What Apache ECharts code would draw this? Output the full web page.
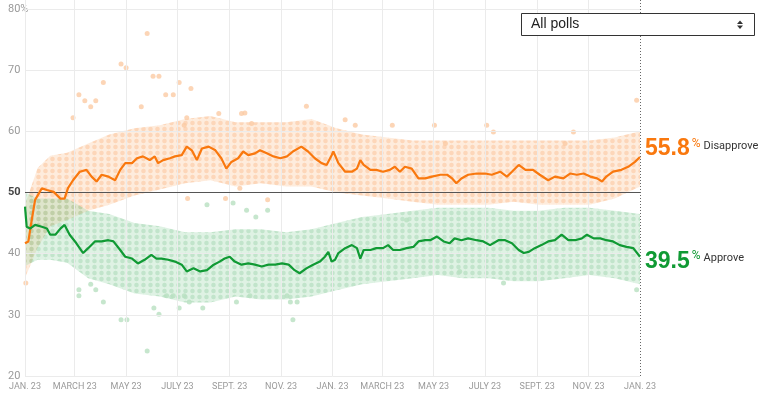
<!DOCTYPE html>
<html><head><meta charset="utf-8">
<script src="https://cdn.jsdelivr.net/npm/echarts@6/dist/echarts.min.js"></script>
<style>html,body{margin:0;padding:0;background:#fff}#c{width:768px;height:395px}</style>
</head><body><div id="c"></div>
<script>
// ---- axis ticks ----
const xTickDays = [0,59,120,181,243,304,365,424,485,546,608,669,730];
const xTickLabels = ['JAN. 23','MARCH 23','MAY 23','JULY 23','SEPT. 23','NOV. 23','JAN. 23','MARCH 23','MAY 23','JULY 23','SEPT. 23','NOV. 23','JAN. 23'];
const yTicks = [20,30,40,50,60,70,80];

// ---- disapprove trend ----
const disapproveDays = [0,4,8,12,20,26,34,42,47,51,57,65,73,79,85,91,99,107,113,119,127,133,140,148,154,158,164,172,178,186,192,198,204,210,218,226,233,239,245,253,259,265,273,279,287,295,303,311,318,328,336,344,352,358,364,366,372,380,388,394,398,402,410,417,425,433,439,445,451,459,467,475,483,493,501,507,512,518,526,536,546,554,564,572,578,586,594,603,611,621,629,639,647,655,663,671,679,685,690,698,708,716,724,730];
const disapproveValues = [41.7,42.0,45.5,48.8,50.7,50.4,50.1,49.0,49.0,50.7,52.0,53.4,53.7,52.6,51.8,52.9,52.6,52.0,53.7,54.8,54.8,55.6,55.9,55.3,55.9,54.8,55.3,55.6,55.9,56.1,57.5,56.9,55.3,57.2,57.5,56.9,55.6,53.9,55.0,55.6,56.7,56.1,56.4,56.9,56.4,55.9,55.6,55.9,56.7,57.5,56.7,55.6,54.8,54.5,56.1,56.7,54.8,53.4,53.4,53.9,55.3,54.5,53.7,53.7,53.4,53.7,54.2,53.4,54.2,53.9,52.3,52.3,52.6,52.9,52.9,52.3,51.5,52.3,52.9,53.1,53.1,52.9,53.4,52.6,53.4,54.5,53.7,53.7,52.9,52.0,52.6,52.3,53.1,52.9,53.1,52.6,52.3,51.8,52.6,53.4,53.7,54.2,55.0,55.8];

// ---- approve trend ----
const approveDays = [0,2,6,12,20,26,30,36,42,47,53,61,69,75,83,91,99,105,113,119,127,134,142,150,156,162,170,178,186,192,200,208,216,224,231,237,243,249,257,265,273,281,289,297,305,313,320,326,334,342,350,356,360,364,368,372,380,388,394,398,402,410,417,425,431,437,445,453,461,467,475,481,489,497,504,510,518,526,536,544,552,562,570,578,586,592,598,605,613,621,629,637,645,653,661,667,675,683,690,698,706,714,722,730];
const approveValues = [47.7,44.4,44.1,44.7,44.4,44.1,43.1,43.1,44.1,44.7,43.1,41.7,40.1,40.9,42.0,42.0,42.2,42.0,40.6,39.5,39.2,38.4,39.0,39.8,39.2,39.2,39.0,38.7,38.2,37.1,37.6,37.1,37.3,38.2,38.7,39.2,39.5,38.7,38.2,38.4,38.2,37.9,38.2,38.2,38.4,38.2,37.3,36.8,37.6,38.2,38.7,39.5,40.3,38.7,39.0,40.1,40.9,41.4,40.9,39.2,40.6,40.6,40.9,40.9,41.4,40.6,40.6,40.9,41.1,42.0,42.2,42.2,42.8,42.0,41.7,42.5,42.2,42.5,42.2,42.0,41.4,42.2,42.2,41.7,40.6,40.1,40.3,40.9,41.4,42.0,42.2,43.1,42.2,42.2,42.5,43.1,42.5,42.5,42.2,42.0,41.4,41.1,40.9,39.5];

// ---- uncertainty bands ----
const bandDays = [0,15,30,50,75,100,130,160,190,220,250,280,310,340,370,400,430,460,490,520,550,580,610,640,670,700,730];
const disapproveUpper = [48,54,56,56.5,58,59.5,60.5,61,62,62.5,61.5,61.5,61.5,62,60.5,59.5,59,58.5,58.5,58.5,58.5,58.5,58.5,58.5,58.5,59,60];
const disapproveLower = [36,41,44.5,45.5,47,48,49.5,50.5,51.5,52,51,51.5,51,51,50,49.5,49,48.5,48,48,48,48.5,48,48,48,49,51];
const approveUpper = [50,49,49,49,47,46.5,45,44.5,43.5,43.5,44,44,43.5,44,45,46,46.5,47,47.5,47.5,47.5,47,47,47.5,47.5,47,46.5];
const approveLower = [38,39,39,38.5,36,35,33.5,33,32,32,33,32.5,32.5,33,34,35,35.5,36,36.5,36,36,35.5,35.5,36,36.5,36,35];

// ---- individual polls (outside the dense bands) ----
const disapprovePollDays = [145,114,120,152,159,93,183,197,64,71,84,78,138,167,176,57,192,1,726,334,380,392,436,189,230,257,261,269,486,548,556,651,641,499,193,238,255,288];
const disapprovePollValues = [76,71,70.4,69,69,68,68,67,66,65,65,64,64,66,66,62.2,62.2,35.2,65.1,64.1,61.9,61,61,61,62.9,62.9,63,61.3,61,61,59.9,59.9,58,58,49,49,50.7,48.8];
const approvePollDays = [64,64,78,84,93,114,121,145,153,159,168,176,183,189,195,211,251,267,311,315,318,323,568,726,516,453,216,247,263,274,288];
const approvePollValues = [33.1,34.1,35,34.1,32.1,29.2,29.2,24.1,31.1,30.1,33.1,33.1,31.1,33.1,32.1,31.1,32.1,33.1,33.1,32.1,29.2,32.1,35.2,34.1,37.1,45.5,48,48.3,47.1,46,47.1];

const ORANGE = '#f9780e', GREEN = '#109a34';
const pair = (xs, ys) => xs.map((d, i) => [d, ys[i]]);

// dotted texture for the poll bands (purely a fill style)
function dotPattern(bg, dot) {
  const c = document.createElement('canvas');
  c.width = 7; c.height = 6;
  const g = c.getContext('2d');
  g.fillStyle = bg; g.fillRect(0, 0, 7, 6);
  g.fillStyle = dot;
  g.beginPath(); g.arc(3.5, 3, 2.3, 0, Math.PI * 2); g.fill();
  return {image: c, repeat: 'repeat'};
}

function bandSeries(upper, lower, fill) {
  return {
    type: 'custom', silent: true, z: 1,
    data: bandDays.map((d, i) => [d, lower[i], upper[i]]),
    encode: {x: 0, y: [1, 2]},
    renderItem: (params, api) => {
      if (params.dataIndex !== 0) return null;
      const top = bandDays.map((d, i) => api.coord([d, upper[i]]));
      const bottom = bandDays.map((d, i) => api.coord([d, lower[i]])).reverse();
      return {type: 'polygon', shape: {points: top.concat(bottom)}, style: {fill: fill}};
    }
  };
}

const chart = echarts.init(document.getElementById('c'), null, {renderer: 'canvas'});
const font = 'Roboto, "Liberation Sans", sans-serif';

const option = {
  animation: false,
  grid: {left: 25, right: 128, top: 0, bottom: 19, outerBoundsMode: 'none'},
  xAxis: {
    type: 'value', min: 0, max: 730,
    axisLine: {show: false}, axisTick: {show: false}, splitLine: {show: false},
    axisLabel: {
      customValues: xTickDays,
      formatter: v => { const i = xTickDays.indexOf(v); return i >= 0 ? xTickLabels[i] : ''; },
      color: '#9a9a9a', fontSize: 9, fontFamily: font, margin: 6
    }
  },
  yAxis: {
    type: 'value', min: 20, max: 81.47, interval: 10,
    axisLine: {show: false}, axisTick: {show: false}, splitLine: {show: false},
    axisLabel: {
      align: 'left', margin: 17, color: '#9a9a9a', fontSize: 11, fontFamily: font,
      formatter: v => v === 80 ? '80%' : (v === 50 ? '{dark|50}' : (yTicks.includes(v) ? String(v) : '')),
      rich: {dark: {color: '#444', fontSize: 11, fontWeight: 'bold', fontFamily: font}}
    }
  },
  graphic: [
    {type: 'rect', shape: {x: 521.5, y: 13.5, width: 233, height: 22}, style: {fill: '#fff', stroke: '#333', lineWidth: 1}, z: 100},
    {type: 'text', x: 531, y: 24.5, style: {text: 'All polls', fill: '#222', font: '14px "Liberation Sans", Arial, sans-serif', verticalAlign: 'middle'}, z: 101},
    {type: 'polygon', shape: {points: [[737, 24], [743, 24], [740, 20.5]]}, style: {fill: '#333'}, z: 101},
    {type: 'polygon', shape: {points: [[737, 25.5], [743, 25.5], [740, 29]]}, style: {fill: '#333'}, z: 101}
  ],
  series: [
    { // light grid
      type: 'line', data: [[0, 50]], symbol: 'none', lineStyle: {opacity: 0}, silent: true, z: 0,
      markLine: {
        silent: true, symbol: 'none', label: {show: false}, animation: false,
        lineStyle: {color: '#ebebeb', width: 1, type: 'solid'},
        data: xTickDays.slice(0, -1).map(d => ({xAxis: d})).concat(yTicks.filter(v => v !== 50).map(v => ({yAxis: v})))
      }
    },
    bandSeries(disapproveUpper, disapproveLower, dotPattern('rgba(251,195,150,0.32)', 'rgba(248,168,110,0.32)')),
    bandSeries(approveUpper, approveLower, dotPattern('rgba(150,212,165,0.30)', 'rgba(115,192,135,0.28)')),
    {type: 'scatter', data: pair(disapprovePollDays, disapprovePollValues), symbolSize: 5, itemStyle: {color: '#fbcaa4'}, silent: true, z: 2},
    {type: 'scatter', data: pair(approvePollDays, approvePollValues), symbolSize: 5, itemStyle: {color: '#b8e0c1'}, silent: true, z: 2},
    { // 50% line and dotted "today" line
      type: 'line', data: [[0, 50]], symbol: 'none', lineStyle: {opacity: 0}, silent: true, z: 3,
      markLine: {
        silent: true, symbol: 'none', label: {show: false}, animation: false,
        data: [
          {yAxis: 50, lineStyle: {color: '#555', width: 1, type: 'solid'}},
          {xAxis: 730, lineStyle: {color: '#666', width: 1, type: [1, 2]}}
        ]
      }
    },
    {
      type: 'line', name: 'Disapprove', data: pair(disapproveDays, disapproveValues), symbol: 'none', z: 5,
      lineStyle: {color: ORANGE, width: 2.2}, itemStyle: {color: ORANGE},
      endLabel: {
        show: true, distance: 5, offset: [0, -8],
        formatter: p => '{num|' + p.value[1].toFixed(1) + '}{pct|%}{name|Disapprove}',
        rich: {
          num: {fontSize: 23, fontWeight: 'bold', color: ORANGE, fontFamily: '"Liberation Sans", Arial, sans-serif'},
          pct: {fontSize: 12, color: ORANGE, verticalAlign: 'top', padding: [0, 3, 0, 2], fontFamily: font},
          name: {fontSize: 11, color: '#333', verticalAlign: 'top', padding: [3, 0, 0, 0], fontFamily: font}
        }
      }
    },
    {
      type: 'line', name: 'Approve', data: pair(approveDays, approveValues), symbol: 'none', z: 5,
      lineStyle: {color: GREEN, width: 2.2}, itemStyle: {color: GREEN},
      endLabel: {
        show: true, distance: 5, offset: [0, 5],
        formatter: p => '{num|' + p.value[1].toFixed(1) + '}{pct|%}{name|Approve}',
        rich: {
          num: {fontSize: 23, fontWeight: 'bold', color: GREEN, fontFamily: '"Liberation Sans", Arial, sans-serif'},
          pct: {fontSize: 12, color: GREEN, verticalAlign: 'top', padding: [0, 3, 0, 2], fontFamily: font},
          name: {fontSize: 11, color: '#333', verticalAlign: 'top', padding: [3, 0, 0, 0], fontFamily: font}
        }
      }
    }
  ]
};
chart.setOption(option);
</script>
</body></html>
